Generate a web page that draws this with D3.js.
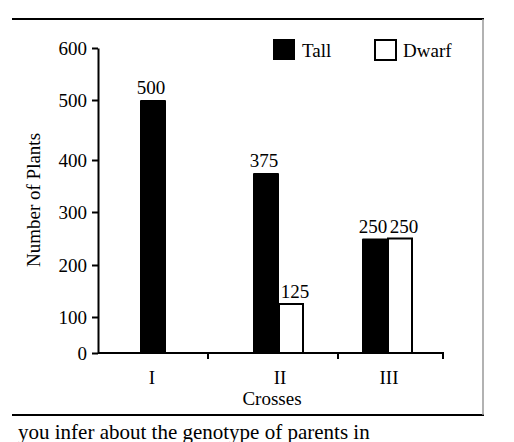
<!DOCTYPE html>
<html><head><meta charset="utf-8">
<script src="https://cdn.jsdelivr.net/npm/d3@7"></script>
<style>body{margin:0;background:#fff}svg{display:block}text{font-family:"Liberation Serif",serif;fill:#000}</style>
</head><body><svg id="c" width="514" height="442"></svg>
<script>
var crosses = ["I", "II", "III"];
var tall = [500, 375, 250];
var dwarf = [null, 125, 250];
var yTicks = [0, 100, 200, 300, 400, 500, 600];

var svg = d3.select("#c");
// axis in the picture is drawn unevenly, so map each tick to its drawn spot
var y = d3.scaleLinear().domain(yTicks).range([353, 317, 265, 212, 160, 100, 48]);
var off = {I: 42, II: 155, III: 264};
var fs = 19;

// frame
svg.append("line").attr("x1", 12).attr("x2", 484).attr("y1", 19).attr("y2", 19).attr("stroke", "#000").attr("stroke-width", 2);
svg.append("line").attr("x1", 12).attr("x2", 484).attr("y1", 415).attr("y2", 415).attr("stroke", "#000").attr("stroke-width", 2);
svg.append("line").attr("x1", 483).attr("x2", 483).attr("y1", 19).attr("y2", 415).attr("stroke", "#999").attr("stroke-width", 1.5);

var g = svg.append("g");
crosses.forEach(function(c, i){
    var bx = 98 + off[c];
    g.append("rect").attr("x", bx).attr("y", y(tall[i])).attr("width", 26).attr("height", y(0) - y(tall[i])).attr("fill", "#000").attr("rx", 1);
    g.append("text").attr("x", bx + 11).attr("y", y(tall[i]) - 6).attr("text-anchor", "middle").attr("font-size", fs).text(tall[i]);
    if (dwarf[i] != null) {
        g.append("rect").attr("x", bx + 26).attr("y", y(dwarf[i])).attr("width", 24).attr("height", y(0) - y(dwarf[i])).attr("fill", "#fff").attr("stroke", "#000").attr("stroke-width", 2);
        g.append("text").attr("x", bx + 42).attr("y", y(dwarf[i]) - 6).attr("text-anchor", "middle").attr("font-size", fs).text(dwarf[i]);
    }
});

// y axis
var ya = svg.append("g").attr("transform", "translate(98,0)")
    .call(d3.axisLeft(y).tickValues(yTicks).tickSize(6).tickSizeOuter(0));
ya.select(".domain").attr("stroke-width", 2);
ya.selectAll(".tick line").attr("stroke-width", 2);
ya.selectAll("text").attr("font-size", fs).attr("font-family", "Liberation Serif").attr("dx", -2);

// x axis
svg.append("line").attr("x1", 98).attr("x2", 444).attr("y1", 353).attr("y2", 353).attr("stroke", "#000").attr("stroke-width", 2);
[208, 338, 443].forEach(function(t){
    svg.append("line").attr("x1", t).attr("x2", t).attr("y1", 353).attr("y2", 359).attr("stroke", "#000").attr("stroke-width", 2);
});
var labX = {I: 152, II: 280, III: 389};
crosses.forEach(function(c){
    svg.append("text").attr("x", labX[c]).attr("y", 384).attr("text-anchor", "middle").attr("font-size", fs).text(c);
});
svg.append("text").attr("x", 272).attr("y", 405).attr("text-anchor", "middle").attr("font-size", fs).text("Crosses");
svg.append("text").attr("transform", "translate(40,200) rotate(-90)").attr("text-anchor", "middle").attr("font-size", fs).text("Number of Plants");

// legend
svg.append("rect").attr("x", 273).attr("y", 39).attr("width", 22).attr("height", 21).attr("fill", "#000");
svg.append("text").attr("x", 302).attr("y", 57).attr("font-size", fs).text("Tall");
svg.append("rect").attr("x", 375).attr("y", 40).attr("width", 21).attr("height", 20).attr("fill", "#fff").attr("stroke", "#000").attr("stroke-width", 2);
svg.append("text").attr("x", 403).attr("y", 57).attr("font-size", fs).text("Dwarf");

svg.append("text").attr("x", 18).attr("y", 439).attr("font-size", 21).text("you infer about the genotype of parents in");
</script></body></html>
